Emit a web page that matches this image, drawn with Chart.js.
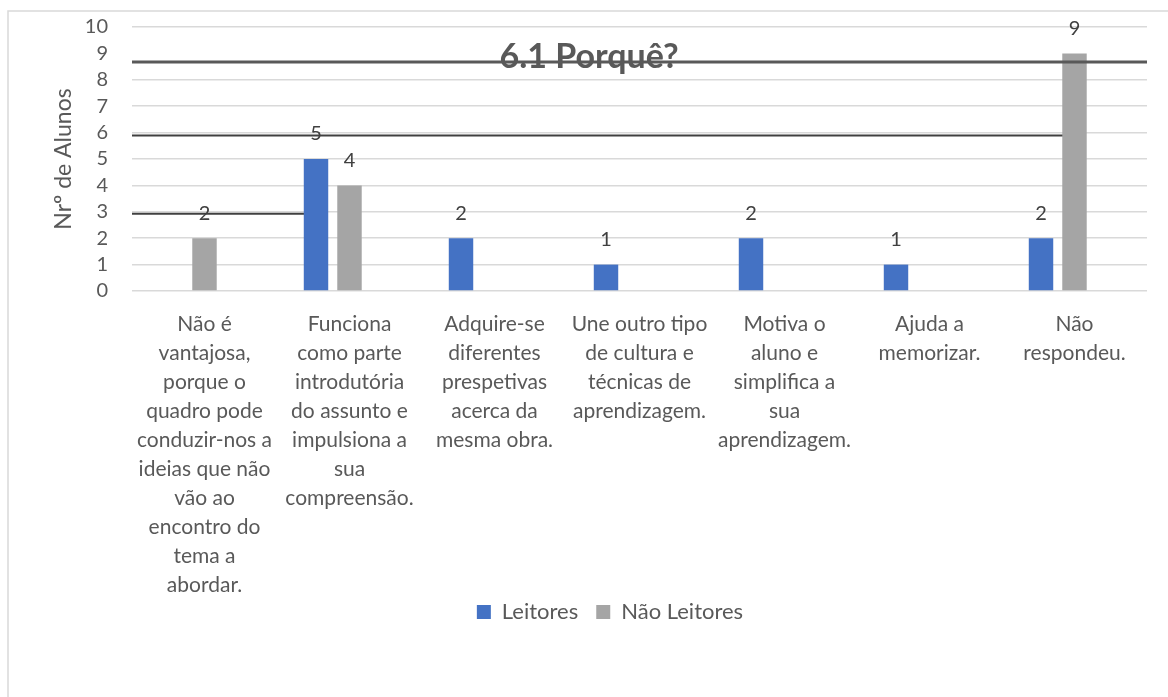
<!DOCTYPE html>
<html>
<head>
<meta charset="utf-8">
<script src="https://cdn.jsdelivr.net/npm/chart.js@4.4.1/dist/chart.umd.min.js"></script>
<style>
  html, body { margin: 0; padding: 0; background: #fff; }
  #wrap { position: relative; width: 1168px; height: 697px; }
</style>
</head>
<body>
<div id="wrap"><canvas id="myChart"></canvas></div>
<script>
// categorias (rótulos do eixo x, já partidos em linhas)
var categories = [
  ["Não é", "vantajosa,", "porque o", "quadro pode", "conduzir-nos a", "ideias que não", "vão ao", "encontro do", "tema a", "abordar."],
  ["Funciona", "como parte", "introdutória", "do assunto e", "impulsiona a", "sua", "compreensão."],
  ["Adquire-se", "diferentes", "prespetivas", "acerca da", "mesma obra."],
  ["Une outro tipo", "de cultura e", "técnicas de", "aprendizagem."],
  ["Motiva o", "aluno e", "simplifica a", "sua", "aprendizagem."],
  ["Ajuda a", "memorizar."],
  ["Não", "respondeu."]
];
var seriesNames = ["Leitores", "Não Leitores"];
var leitores = [null, 5, 2, 1, 2, 1, 2];
var naoLeitores = [2, 4, null, null, null, null, 9];
var yMin = 0, yMax = 10, yStep = 1;
var chartTitle = "6.1 Porquê?";
var yTitle = "Nrº de Alunos";

var FONT = "Lato, 'Open Sans', sans-serif";

var decor = {
  id: 'decor',
  beforeDraw: function(chart) {
    var ctx = chart.ctx;
    ctx.save();
    ctx.strokeStyle = '#d9d9d9';
    ctx.lineWidth = 1.5;
    ctx.beginPath();
    ctx.moveTo(8, chart.height);
    ctx.lineTo(8, 11);
    ctx.lineTo(chart.width, 11);
    ctx.stroke();
    ctx.restore();
  },
  beforeDatasetsDraw: function(chart) {
    var ctx = chart.ctx, area = chart.chartArea, y = chart.scales.y;
    var y6 = y.getPixelForValue(6) + 3, y3 = y.getPixelForValue(3) + 2;
    ctx.save();
    ctx.strokeStyle = '#404040';
    ctx.lineWidth = 2;
    ctx.beginPath();
    ctx.moveTo(area.left, y6);
    ctx.lineTo(chart.getDatasetMeta(1).data[6].x, y6);
    ctx.moveTo(area.left, y3);
    ctx.lineTo(chart.getDatasetMeta(0).data[1].x, y3);
    ctx.stroke();
    ctx.restore();
  },
  afterDraw: function(chart) {
    var ctx = chart.ctx, area = chart.chartArea;
    ctx.save();
    // valores por cima das barras
    ctx.fillStyle = '#404040';
    ctx.font = '20px ' + FONT;
    ctx.textAlign = 'center';
    ctx.textBaseline = 'middle';
    [0, 1].forEach(function(i) {
      var meta = chart.getDatasetMeta(i);
      var vals = chart.data.datasets[i].data;
      meta.data.forEach(function(bar, j) {
        if (vals[j] == null) return;
        ctx.fillText(String(vals[j]), bar.x, bar.y - 25);
      });
    });
    // título
    ctx.fillStyle = '#595959';
    ctx.font = 'bold 34px ' + FONT;
    ctx.fillText(chartTitle, chart.width / 2 + 5, 57);
    // linha escura por cima
    ctx.strokeStyle = '#595959';
    ctx.lineWidth = 3;
    ctx.beginPath();
    ctx.moveTo(area.left, 62);
    ctx.lineTo(area.right, 62);
    ctx.stroke();
    ctx.restore();
  }
};

function porqueChart() {
  var ctx = document.getElementById('myChart').getContext('2d');
  var myChart = new Chart(ctx, {
    type: 'bar',
    data: {
      labels: categories,
      datasets: [{
        label: seriesNames[0],
        data: leitores,
        backgroundColor: "#4472C4"
      }, {
        label: seriesNames[1],
        data: naoLeitores,
        backgroundColor: "#A5A5A5"
      }, {
        label: '',
        data: [],
        backgroundColor: "rgba(0,0,0,0)"
      }]
    },
    options: {
      responsive: true,
      maintainAspectRatio: false,
      animation: false,
      categoryPercentage: 0.693,
      barPercentage: 0.73,
      layout: { autoPadding: false, padding: { left: 73, right: 21, top: 27, bottom: 64 } },
      plugins: {
        tooltip: { enabled: false },
        title: { display: false },
        legend: {
          position: 'bottom',
          labels: {
            boxWidth: 14,
            boxHeight: 14,
            padding: 7,
            color: '#595959',
            font: { family: FONT, size: 22 },
            generateLabels: function(chart) {
              var items = Chart.defaults.plugins.legend.labels.generateLabels(chart);
              items[0].text = items[0].text + '\u2002';
              return items;
            },
            filter: function(item) { return item.text !== ''; }
          }
        }
      },
      scales: {
        x: {
          grid: { display: false, drawTicks: false },
          border: { display: false },
          ticks: {
            color: '#595959',
            font: { family: FONT, size: 21, lineHeight: 1.38 },
            padding: 19,
            maxRotation: 0,
            minRotation: 0,
            autoSkip: false
          },
          afterFit: function(scale) { scale.height = 303; }
        },
        y: {
          min: yMin,
          max: yMax,
          grid: {
            color: function(c) { return c.tick && c.tick.value === 9 ? 'rgba(0,0,0,0)' : '#d9d9d9'; },
            lineWidth: 1.5,
            drawTicks: false
          },
          border: { display: false },
          ticks: {
            stepSize: yStep,
            autoSkip: false,
            color: '#595959',
            font: { family: FONT, size: 20 },
            padding: 24
          },
          title: {
            display: true,
            text: yTitle,
            color: '#595959',
            font: { family: FONT, size: 23 },
            padding: { top: -23, bottom: 0 }
          },
          afterFit: function(scale) {
            scale.width = 59;
            scale.paddingTop = 0;
            scale.paddingBottom = 0;
          }
        }
      }
    },
    plugins: [decor]
  });
}

porqueChart();
</script>
</body>
</html>
